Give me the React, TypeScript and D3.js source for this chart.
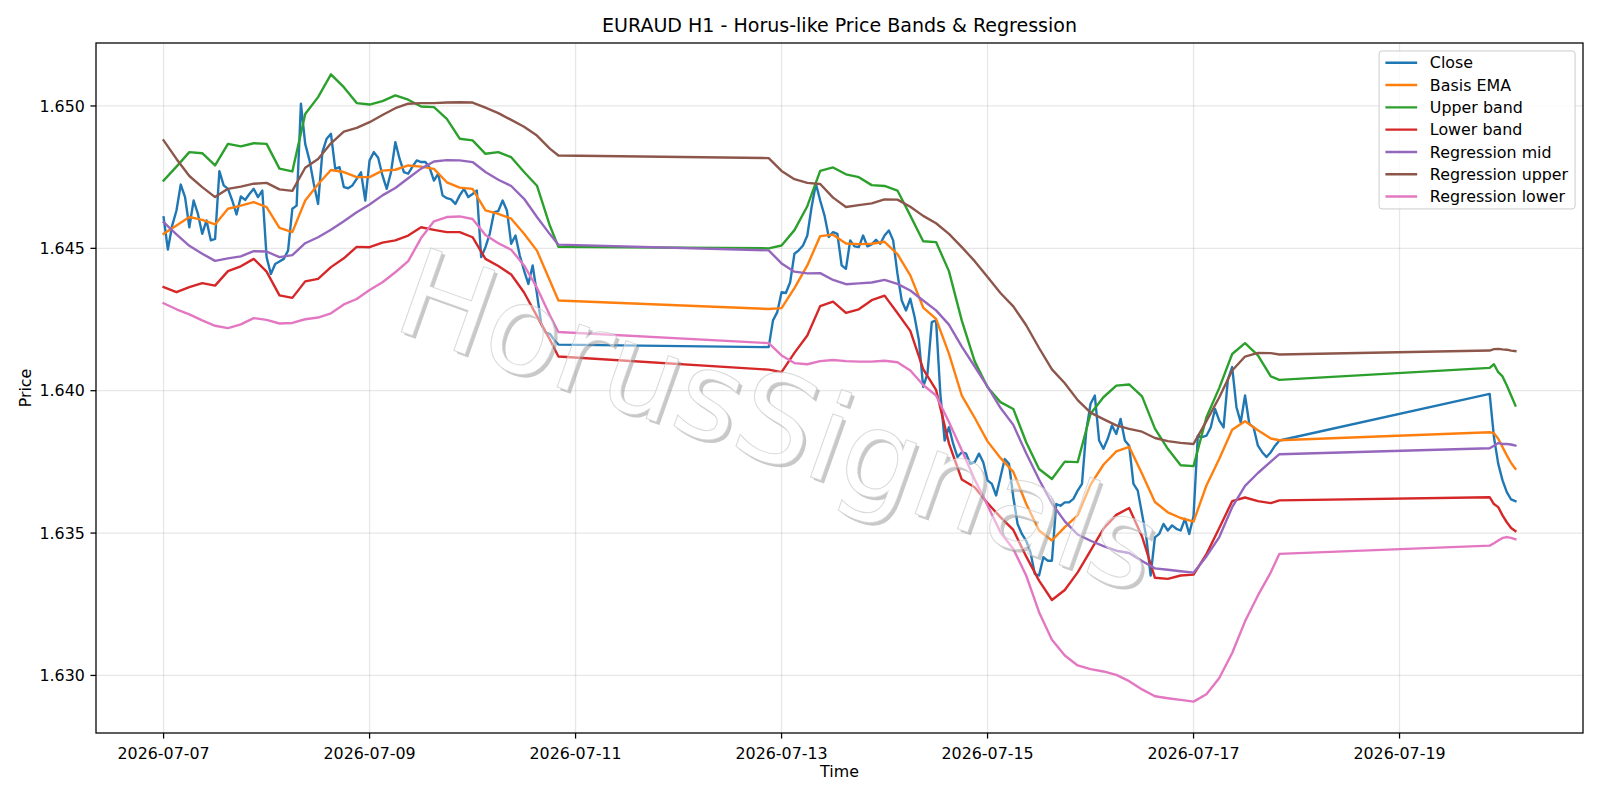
import * as d3 from "d3";
import { useEffect, useRef } from "react";

const width = 1600;
const height = 800;
const margin = { top: 43, right: 17, bottom: 67, left: 96 };
const font = "DejaVu Sans, Verdana, sans-serif";
const pt = 114.3 / 72;

// hours are counted from 2026-07-07 00:00 UTC, one bar per hour (H1)
const startTime = Date.UTC(2026, 6, 7);
const sessions: [number, number][] = [
  [0, 92],
  [141, 260],
  [309, 315]
];

const closeWeek1 = [
  1.64609, 1.64496, 1.6458, 1.64633, 1.64724, 1.6468, 1.64574, 1.64668, 1.64621, 1.64551,
  1.64598, 1.64528, 1.64533, 1.64771, 1.64721, 1.64709, 1.64668, 1.64619, 1.64682, 1.6467,
  1.64691, 1.64709, 1.6468, 1.64703, 1.64469, 1.6441, 1.64445, 1.64454, 1.64463, 1.64492,
  1.64639, 1.6465, 1.65008, 1.64867, 1.64809, 1.64727, 1.64656, 1.64838, 1.64885, 1.64902,
  1.64779, 1.64785, 1.64715, 1.64711, 1.64721, 1.64744, 1.64767, 1.64668, 1.64809, 1.64838,
  1.64818, 1.64756, 1.64709, 1.64768, 1.64873, 1.64814, 1.64768, 1.64762, 1.64787, 1.64809,
  1.64803, 1.64803, 1.64783, 1.64738, 1.64762, 1.64686, 1.64676, 1.64672, 1.64656, 1.64686,
  1.64709, 1.6468, 1.64691, 1.64703, 1.64469, 1.64504, 1.64551, 1.64627, 1.64631, 1.64668,
  1.64633, 1.64516, 1.64545, 1.64475, 1.64422, 1.64375, 1.6444, 1.6434, 1.64235, 1.64205,
  1.642, 1.64179, 1.64162
];
const closeWeek2 = [
  1.64153, 1.64247, 1.64276, 1.64346, 1.64343, 1.64381, 1.64481, 1.64493, 1.6451, 1.64545,
  1.64645, 1.64727, 1.64668, 1.64616, 1.6454, 1.64557, 1.64551, 1.6444, 1.64428, 1.64528,
  1.64507, 1.64504, 1.64545, 1.64507, 1.64514, 1.6453, 1.64516, 1.64545, 1.64563, 1.64528,
  1.64411, 1.64317, 1.64282, 1.64323, 1.64259, 1.64177, 1.64013, 1.6406, 1.64241, 1.64247,
  1.63989, 1.63825, 1.63872, 1.63813, 1.63767, 1.63784, 1.63779, 1.63743, 1.63749, 1.63779,
  1.63749, 1.63685, 1.63673, 1.63632, 1.63696, 1.6376, 1.63743, 1.63626, 1.63532, 1.63497,
  1.63473, 1.63433, 1.63357, 1.63351, 1.63415, 1.63403, 1.63403, 1.63602, 1.63596, 1.63608,
  1.63608, 1.6362, 1.63649, 1.63673, 1.6386, 1.63954, 1.63983, 1.63825, 1.63796, 1.63831,
  1.63878, 1.63848, 1.63901, 1.63825, 1.63807, 1.63673, 1.63649, 1.63567, 1.63485, 1.63351,
  1.63485, 1.63497, 1.63532, 1.63509, 1.63527, 1.63515, 1.63509, 1.6355, 1.63497, 1.6356,
  1.63842, 1.63837, 1.63842, 1.63871, 1.63936, 1.63895, 1.63871, 1.6404, 1.64083, 1.63942,
  1.63889, 1.63983, 1.63883, 1.63871, 1.63807, 1.63784, 1.63767, 1.63784, 1.63807, 1.63825
];
const closeWeek3 = [1.63989, 1.63837, 1.63743, 1.63685, 1.63644, 1.63618, 1.63612];

// the smoother bands are read every 3 hours
const bandHours = [
  0, 3, 6, 9, 12, 15, 18, 21, 24, 27, 30, 33, 36, 39, 42, 45, 48, 51, 54, 57, 60, 63, 66, 69, 72,
  75, 78, 81, 84, 87, 90, 92,
  141, 144, 147, 150, 153, 156, 159, 162, 165, 168, 171, 174, 177, 180, 183, 186, 189, 192, 195,
  198, 201, 204, 207, 210, 213, 216, 219, 222, 225, 228, 231, 234, 237, 240, 243, 246, 249, 252,
  255, 258, 260,
  309, 310, 311, 312, 313, 314, 315
];

const basisEma = [
  1.64551, 1.6458, 1.6461, 1.646, 1.64584, 1.64639, 1.6465, 1.64662, 1.64645, 1.64572,
  1.64557, 1.64668, 1.64725, 1.64775, 1.64768, 1.6475, 1.6475, 1.64773, 1.64776, 1.64791,
  1.64787, 1.64779, 1.64732, 1.64713, 1.64709, 1.64633, 1.64621, 1.64604, 1.64551, 1.64492,
  1.64387, 1.64317,
  1.64287, 1.6429, 1.6436, 1.6444, 1.64543, 1.64548, 1.64517, 1.64515, 1.64516, 1.64523,
  1.6448, 1.64405, 1.64292, 1.64252, 1.6413, 1.63983, 1.63905, 1.63822, 1.63764, 1.63715,
  1.63603, 1.63509, 1.63474, 1.63521, 1.63562, 1.6367, 1.6374, 1.63787, 1.63803, 1.63708,
  1.63609, 1.63573, 1.63553, 1.6354, 1.63667, 1.63761, 1.63863, 1.63893, 1.63861, 1.63832,
  1.63826,
  1.63854, 1.63851, 1.63831, 1.63802, 1.63773, 1.63746, 1.63726
];

const upperBand = [
  1.64738, 1.64787, 1.64838, 1.64834, 1.64791, 1.64867, 1.64858, 1.64869, 1.64867, 1.6478,
  1.6477, 1.64972, 1.65031, 1.65111, 1.65066, 1.6501, 1.65005, 1.65017, 1.65037, 1.65022,
  1.64998, 1.64996, 1.64955, 1.64885, 1.64879, 1.64832, 1.64838, 1.6482, 1.64768, 1.6472,
  1.6458, 1.64505,
  1.645, 1.6451, 1.64564, 1.64648, 1.64772, 1.64784, 1.6476, 1.6475, 1.64722, 1.64719,
  1.64703, 1.64615, 1.64525, 1.64522, 1.6442, 1.64246, 1.64103, 1.64012, 1.6396, 1.63936,
  1.63819, 1.63725, 1.6369, 1.63751, 1.63749, 1.63919, 1.63977, 1.64018, 1.64022, 1.6398,
  1.63867, 1.63796, 1.63738, 1.63735, 1.63907, 1.6401, 1.64129, 1.64167, 1.64124, 1.6405,
  1.64038,
  1.6408, 1.64093, 1.64065, 1.6405, 1.64018, 1.63983, 1.63948
];

const lowerBand = [
  1.64364, 1.64346, 1.64364, 1.64378, 1.64369, 1.6442, 1.64437, 1.64463, 1.64418, 1.64335,
  1.64326, 1.64384, 1.64393, 1.64434, 1.64465, 1.64505, 1.64504, 1.6452, 1.64528, 1.64545,
  1.64574, 1.64565, 1.64557, 1.64557, 1.64539, 1.64463, 1.64438, 1.64408, 1.64345, 1.64262,
  1.6418, 1.6412,
  1.64074, 1.64065, 1.64133, 1.64194, 1.64297, 1.64313, 1.64273, 1.64286, 1.64318, 1.64334,
  1.64273, 1.6421, 1.64076, 1.64003, 1.63815, 1.63688, 1.63661, 1.63605, 1.63556, 1.63511,
  1.63418, 1.63333, 1.63265, 1.633, 1.63362, 1.63438, 1.63515, 1.63564, 1.63588, 1.63488,
  1.63343, 1.63339, 1.63351, 1.63354, 1.63426, 1.63518, 1.63612, 1.63625, 1.63612, 1.63605,
  1.63615,
  1.63626, 1.63602, 1.63591, 1.63562, 1.63538, 1.63518, 1.63507
];

const regressionMid = [
  1.64592, 1.64549, 1.64509, 1.64481, 1.64456, 1.64465, 1.64472, 1.6449, 1.64489, 1.64469,
  1.64476, 1.64518, 1.64539, 1.64565, 1.64595, 1.64627, 1.64654, 1.64686, 1.64712, 1.64746,
  1.6478, 1.64805, 1.6481, 1.64809, 1.64803, 1.64768, 1.64741, 1.64719, 1.64674, 1.6461,
  1.6455, 1.64513,
  1.64493, 1.64447, 1.64418, 1.64412, 1.64413, 1.64389, 1.64374, 1.64377, 1.6438, 1.64389,
  1.64375, 1.64352, 1.64317, 1.64282, 1.64232, 1.64155, 1.64085, 1.64014, 1.6394, 1.6388,
  1.6378, 1.63688, 1.63604, 1.63541, 1.63495, 1.63473, 1.63454, 1.63438, 1.6343, 1.63402,
  1.63376, 1.63371, 1.63366, 1.63361, 1.63418, 1.63486, 1.63591, 1.63666, 1.63711, 1.63751,
  1.63777,
  1.63798, 1.63807, 1.63816, 1.63813, 1.63813, 1.63811, 1.63807
];

const regressionUpper = [
  1.64879, 1.64814, 1.64754, 1.64715, 1.6468, 1.64709, 1.64717, 1.64727, 1.6473, 1.64707,
  1.64702, 1.64783, 1.64814, 1.64869, 1.6491, 1.64923, 1.64943, 1.64968, 1.64992, 1.65008,
  1.6501, 1.6501, 1.65012, 1.65013, 1.65012, 1.64994, 1.64975, 1.64951, 1.64927, 1.64896,
  1.6485, 1.64826,
  1.64817, 1.64772, 1.64743, 1.6473, 1.64726, 1.64678, 1.64645, 1.64652, 1.64658, 1.64672,
  1.64671, 1.64646, 1.64614, 1.64588, 1.64551, 1.64504, 1.64455, 1.64399, 1.64343, 1.64296,
  1.6423, 1.6415, 1.64075, 1.64026, 1.63967, 1.63923, 1.639, 1.63878, 1.63866, 1.63856,
  1.63834, 1.63823, 1.63817, 1.63813, 1.63893, 1.63977, 1.64071, 1.6412, 1.64133, 1.64132,
  1.64127,
  1.64141, 1.64146, 1.64147, 1.64145, 1.64144, 1.64141, 1.64139
];

const regressionLower = [
  1.64307, 1.64286, 1.64268, 1.64247, 1.64228, 1.6422, 1.64233, 1.64255, 1.64249, 1.64236,
  1.64238, 1.64251, 1.64257, 1.64272, 1.64303, 1.64322, 1.64354, 1.64381, 1.64416, 1.64455,
  1.64536, 1.64595, 1.6461, 1.64612, 1.64603, 1.64547, 1.64518, 1.64495, 1.6444, 1.64362,
  1.64265, 1.64206,
  1.64167, 1.64124, 1.64097, 1.64093, 1.64104, 1.64108, 1.64104, 1.64102, 1.64102, 1.64105,
  1.641, 1.64071, 1.6402, 1.63983, 1.6389, 1.63791, 1.63688, 1.63597, 1.63503, 1.63444,
  1.63351, 1.63222, 1.63125, 1.6307, 1.63035, 1.63022, 1.63014, 1.63002, 1.6298, 1.62951,
  1.62927, 1.6292, 1.62914, 1.62908, 1.62934, 1.62991, 1.63079, 1.6319, 1.63281, 1.63362,
  1.63427,
  1.63456, 1.63464, 1.63474, 1.63483, 1.63486, 1.63483, 1.63478
];

const seriesNames = [
  "Close",
  "Basis EMA",
  "Upper band",
  "Lower band",
  "Regression mid",
  "Regression upper",
  "Regression lower"
];
const seriesColors = ["#1f77b4", "#ff7f0e", "#2ca02c", "#d62728", "#9467bd", "#8c564b", "#e377c2"];

const yTicks = [1.63, 1.635, 1.64, 1.645, 1.65];
const xTickLabels = [
  "2026-07-07",
  "2026-07-09",
  "2026-07-11",
  "2026-07-13",
  "2026-07-15",
  "2026-07-17",
  "2026-07-19"
];

const titleText = "EURAUD H1 - Horus-like Price Bands & Regression";
const watermarkText = "HorusSignals";

const hourToDate = (h: number) => new Date(startTime + h * 3600 * 1000);

export default function App() {
  const svgRef = useRef<SVGSVGElement | null>(null);

  useEffect(() => {
    if (!svgRef.current) {
      return;
    }
    const svg = d3.select(svgRef.current);
    svg.selectAll("*").remove();

    const innerWidth = width - margin.left - margin.right;
    const innerHeight = height - margin.top - margin.bottom;

    const closeHours = sessions.flatMap(([a, b]) => d3.range(a, b + 1));
    const closeValues = [...closeWeek1, ...closeWeek2, ...closeWeek3];
    const bandSeries = [basisEma, upperBand, lowerBand, regressionMid, regressionUpper, regressionLower];
    const series = [
      { values: closeValues, hours: closeHours },
      ...bandSeries.map((values) => ({ values, hours: bandHours }))
    ].map((s, i) => ({
      name: seriesNames[i],
      color: seriesColors[i],
      points: s.values.map((v, j) => [s.hours[j], v] as [number, number])
    }));

    // matplotlib-style 5% margins
    const hourExtent = d3.extent(closeHours) as [number, number];
    const hourPad = (hourExtent[1] - hourExtent[0]) * 0.05;
    const allValues = series.flatMap((s) => s.points.map((p) => p[1]));
    const [vMin, vMax] = d3.extent(allValues) as [number, number];
    const vPad = (vMax - vMin) * 0.05;

    const x = d3
      .scaleUtc()
      .domain([hourToDate(hourExtent[0] - hourPad), hourToDate(hourExtent[1] + hourPad)])
      .range([0, innerWidth]);
    const y = d3
      .scaleLinear()
      .domain([vMin - vPad, vMax + vPad])
      .range([innerHeight, 0]);

    svg.append("rect").attr("width", width).attr("height", height).attr("fill", "#ffffff");

    const chart = svg.append("g").attr("transform", `translate(${margin.left}, ${margin.top})`);
    const xTickDates = xTickLabels.map((s) => new Date(s + "T00:00:00Z"));
    const fmtDate = d3.utcFormat("%Y-%m-%d");

    // grid
    const grid = chart.append("g").attr("stroke", "#b0b0b0").attr("stroke-opacity", 0.3).attr("stroke-width", 0.8 * pt);
    grid
      .selectAll("line.gx")
      .data(xTickDates)
      .join("line")
      .attr("class", "gx")
      .attr("x1", (d) => x(d))
      .attr("x2", (d) => x(d))
      .attr("y1", 0)
      .attr("y2", innerHeight);
    grid
      .selectAll("line.gy")
      .data(yTicks)
      .join("line")
      .attr("class", "gy")
      .attr("x1", 0)
      .attr("x2", innerWidth)
      .attr("y1", (d) => y(d))
      .attr("y2", (d) => y(d));

    // series
    const line = d3
      .line<[number, number]>()
      .x((p) => x(hourToDate(p[0])))
      .y((p) => y(p[1]));
    chart
      .append("g")
      .selectAll("path")
      .data(series)
      .join("path")
      .attr("d", (s) => line(s.points))
      .attr("fill", "none")
      .attr("stroke", (s) => s.color)
      .attr("stroke-width", 1.5 * pt)
      .attr("stroke-linejoin", "round")
      .attr("stroke-linecap", "square");

    // watermark: a grey shadow that only shows outside the glyphs, then a see-through white face
    const wmX = 779 - margin.left;
    const wmY = 421 - margin.top;
    const wmSize = 122;
    const wmAngle = 19.5;
    const shadowDx = 3;
    const shadowDy = 3;
    const defs = svg.append("defs");
    const mask = defs.append("mask").attr("id", "wm-mask").attr("maskUnits", "userSpaceOnUse");
    mask.append("rect").attr("x", -margin.left).attr("y", -margin.top).attr("width", width).attr("height", height).attr("fill", "#fff");
    mask
      .append("text")
      .attr("transform", `translate(${wmX}, ${wmY}) rotate(${wmAngle})`)
      .attr("text-anchor", "middle")
      .attr("dominant-baseline", "central")
      .attr("font-family", font)
      .attr("font-size", wmSize)
      .attr("fill", "#000")
      .text(watermarkText);

    const wm = chart.append("g").attr("font-family", font).attr("font-size", wmSize);
    wm.append("g")
      .attr("mask", "url(#wm-mask)")
      .append("text")
      .attr("transform", `translate(${wmX + shadowDx}, ${wmY + shadowDy}) rotate(${wmAngle})`)
      .attr("text-anchor", "middle")
      .attr("dominant-baseline", "central")
      .attr("fill", "#9a9a9a")
      .attr("fill-opacity", 0.55)
      .text(watermarkText);
    wm.append("text")
      .attr("transform", `translate(${wmX}, ${wmY}) rotate(${wmAngle})`)
      .attr("text-anchor", "middle")
      .attr("dominant-baseline", "central")
      .attr("fill", "#ffffff")
      .attr("fill-opacity", 0.45)
      .attr("stroke", "#cfcfcf")
      .attr("stroke-opacity", 0.8)
      .attr("stroke-width", 1)
      .text(watermarkText);

    // frame
    chart
      .append("rect")
      .attr("width", innerWidth)
      .attr("height", innerHeight)
      .attr("fill", "none")
      .attr("stroke", "#000000")
      .attr("stroke-width", 0.8 * pt);

    // ticks
    const tickLen = 3.5 * pt;
    const tickPad = 3.5 * pt;
    const tickFont = 10 * pt;
    const xt = chart.append("g").attr("font-family", font).attr("font-size", tickFont);
    xt.selectAll("line")
      .data(xTickDates)
      .join("line")
      .attr("x1", (d) => x(d))
      .attr("x2", (d) => x(d))
      .attr("y1", innerHeight)
      .attr("y2", innerHeight + tickLen)
      .attr("stroke", "#000")
      .attr("stroke-width", 0.8 * pt);
    xt.selectAll("text")
      .data(xTickDates)
      .join("text")
      .attr("x", (d) => x(d))
      .attr("y", innerHeight + tickLen + tickPad + 0.93 * tickFont)
      .attr("text-anchor", "middle")
      .attr("fill", "#000")
      .text((d) => fmtDate(d));

    const yt = chart.append("g").attr("font-family", font).attr("font-size", tickFont);
    yt.selectAll("line")
      .data(yTicks)
      .join("line")
      .attr("x1", -tickLen)
      .attr("x2", 0)
      .attr("y1", (d) => y(d))
      .attr("y2", (d) => y(d))
      .attr("stroke", "#000")
      .attr("stroke-width", 0.8 * pt);
    yt.selectAll("text")
      .data(yTicks)
      .join("text")
      .attr("x", -tickLen - tickPad)
      .attr("y", (d) => y(d) + 0.36 * tickFont)
      .attr("text-anchor", "end")
      .attr("fill", "#000")
      .text((d) => d3.format(".3f")(d));

    // labels and title
    svg
      .append("text")
      .attr("x", margin.left + innerWidth / 2)
      .attr("y", 777)
      .attr("text-anchor", "middle")
      .attr("font-family", font)
      .attr("font-size", tickFont)
      .text("Time");
    svg
      .append("text")
      .attr("transform", `translate(31, ${margin.top + innerHeight / 2}) rotate(-90)`)
      .attr("text-anchor", "middle")
      .attr("font-family", font)
      .attr("font-size", tickFont)
      .text("Price");
    svg
      .append("text")
      .attr("x", margin.left + innerWidth / 2)
      .attr("y", margin.top - 6 * pt - 1)
      .attr("text-anchor", "middle")
      .attr("font-family", font)
      .attr("font-size", 12 * pt)
      .text(titleText);

    // legend
    const legendW = 196;
    const legendH = 158;
    const lx = margin.left + innerWidth - 0.5 * tickFont - legendW;
    const ly = margin.top + 0.5 * tickFont;
    const legend = svg.append("g").attr("transform", `translate(${lx}, ${ly})`);
    legend
      .append("rect")
      .attr("width", legendW)
      .attr("height", legendH)
      .attr("rx", 3)
      .attr("fill", "#ffffff")
      .attr("fill-opacity", 0.8)
      .attr("stroke", "#cccccc")
      .attr("stroke-width", 1);
    const rows = legend
      .selectAll("g")
      .data(series)
      .join("g")
      .attr("transform", (_s, i) => `translate(0, ${11.8 + i * 22.3})`);
    rows
      .append("line")
      .attr("x1", 0.4 * tickFont)
      .attr("x2", 0.4 * tickFont + 2 * tickFont)
      .attr("stroke", (s) => s.color)
      .attr("stroke-width", 1.5 * pt);
    rows
      .append("text")
      .attr("x", 0.4 * tickFont + 2.8 * tickFont)
      .attr("y", 0.36 * tickFont)
      .attr("font-family", font)
      .attr("font-size", tickFont)
      .text((s) => s.name);
  }, []);

  return (
    <div>
      <style>{"body{margin:0;}"}</style>
      <svg ref={svgRef} width={width} height={height} style={{ display: "block" }} />
    </div>
  );
}
